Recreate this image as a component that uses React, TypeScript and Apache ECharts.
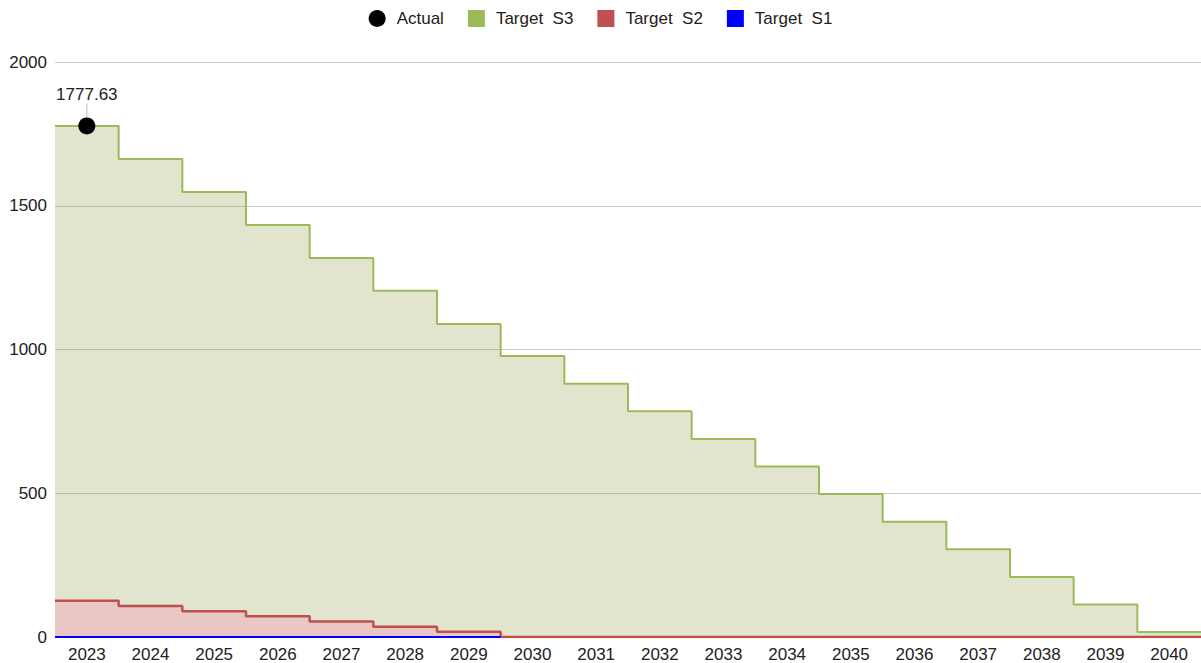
import React, { useEffect, useRef } from "react";
import * as echarts from "echarts";

const years = ["2023","2024","2025","2026","2027","2028","2029","2030","2031","2032","2033","2034","2035","2036","2037","2038","2039","2040"];
const targetS3 = [1777.63, 1663, 1548, 1433, 1318, 1204, 1089, 977, 881, 785, 689, 593, 497, 401, 305, 209, 113, 17];
const targetS2 = [126, 108, 90, 72, 54, 36, 18, 0, 0, 0, 0, 0, 0, 0, 0, 0, 0, 0];
const targetS1 = [0, 0, 0, 0, 0, 0, 0, null, null, null, null, null, null, null, null, null, null, null];
const actualYearIndex = 0;
const actualValue = 1777.63;
const yTicks = [0, 500, 1000, 1500, 2000];

function stepData(vals: (number | null)[]) {
  const out: (number | null)[][] = vals.map((v, i) => [i, v]);
  let last = -1;
  vals.forEach((v, i) => { if (v !== null) last = i; });
  out.splice(last + 1, 0, [last + 1, vals[last]]);
  return out;
}

export default function App() {
  const ref = useRef<HTMLDivElement>(null);
  useEffect(() => {
    if (!ref.current) return;
    const chart = echarts.init(ref.current, null, { renderer: "svg" });
    const font = "Liberation Sans, Arial, sans-serif";
    chart.setOption({
      animation: false,
      textStyle: { fontFamily: font },
      legend: {
        top: 5,
        left: "center",
        itemWidth: 17,
        itemHeight: 17,
        itemGap: 24,
        textStyle: { fontSize: 17, color: "#222", fontFamily: font, padding: [0, 0, 0, 6] },
        data: [
          { name: "Actual", icon: "circle" },
          { name: "Target  S3", icon: "rect" },
          { name: "Target  S2", icon: "rect" },
          { name: "Target  S1", icon: "rect" },
        ],
      },
      grid: { left: 55, right: 0, top: 62, bottom: 26 },
      xAxis: [
        { type: "value", min: 0, max: years.length, show: false },
        {
          type: "category",
          data: years,
          boundaryGap: true,
          position: "bottom",
          axisLine: { show: false },
          axisTick: { show: false },
          axisLabel: { fontSize: 17, color: "#222", margin: 9, fontFamily: font },
        },
      ],
      yAxis: {
        type: "value",
        min: yTicks[0],
        max: yTicks[yTicks.length - 1],
        interval: 500,
        axisLine: { show: false },
        axisTick: { show: false },
        axisLabel: {
          fontSize: 17,
          color: "#222",
          margin: 8,
          fontFamily: font,
          formatter: (v: number) => String(v),
        },
        splitLine: { lineStyle: { color: "#c8c8c8", width: 1 } },
      },
      series: [
        {
          name: "Target  S3",
          type: "line",
          xAxisIndex: 0,
          step: "end",
          showSymbol: false,
          symbol: "none",
          data: stepData(targetS3),
          itemStyle: { color: "#9bbb59" },
          lineStyle: { color: "#9bbb59", width: 2 },
          areaStyle: { color: "rgba(155,170,88,0.3)", opacity: 1 },
        },
        {
          name: "Target  S2",
          type: "line",
          xAxisIndex: 0,
          step: "end",
          showSymbol: false,
          symbol: "none",
          data: stepData(targetS2),
          itemStyle: { color: "#c0504d" },
          lineStyle: { color: "#c0504d", width: 2.5 },
          areaStyle: { color: "#e8c7c6", opacity: 1 },
        },
        {
          name: "Target  S1",
          type: "line",
          xAxisIndex: 0,
          step: "end",
          showSymbol: false,
          symbol: "none",
          data: stepData(targetS1),
          itemStyle: { color: "#0000ff" },
          lineStyle: { color: "#0000ff", width: 2 },
        },
        {
          name: "Actual",
          type: "scatter",
          xAxisIndex: 0,
          symbol: "circle",
          symbolSize: 17,
          itemStyle: { color: "#000", opacity: 1 },
          data: [[actualYearIndex + 0.5, actualValue]],
          label: {
            show: true,
            position: "top",
            distance: 3,
            fontSize: 17,
            color: "#222",
            fontFamily: font,
            formatter: (p: any) => String(p.value[1]),
          },
          labelLayout: { dy: -11 },
          labelLine: { show: true, lineStyle: { color: "#bbb", width: 1 } },
          z: 10,
        },
      ],
    });
    return () => chart.dispose();
  }, []);
  return <div ref={ref} style={{ width: 1201, height: 663, position: "absolute", left: 0, top: 0 }} />;
}
